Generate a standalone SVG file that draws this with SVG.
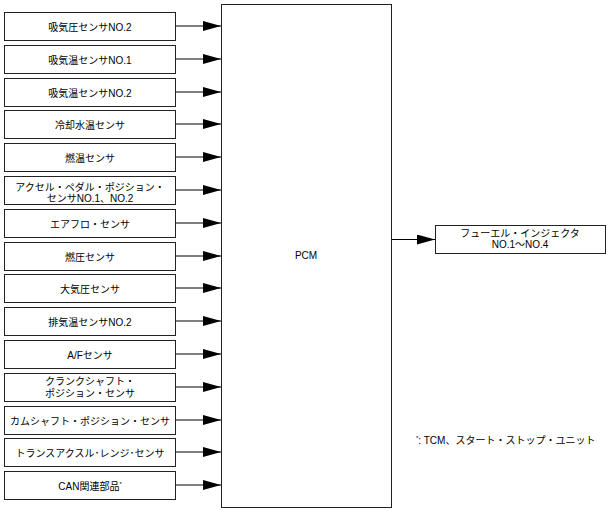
<svg xmlns="http://www.w3.org/2000/svg" width="611" height="511" viewBox="0 0 611 511">
<style>
  .box { fill: #ffffff; stroke: #222222; stroke-width: 1; }
  .conn { stroke: #000000; stroke-width: 1; fill: none; }
  text { font-family: "Liberation Sans", "Noto Sans CJK JP", sans-serif; font-size: 10px; fill: #000000; }
  .c { text-anchor: middle; }
  .sup { font-size: 6px; }
</style>
<defs>
  <marker id="arr" markerUnits="userSpaceOnUse" markerWidth="18" markerHeight="10" refX="18" refY="5" orient="auto">
    <path d="M0,0 L18,5 L0,10 Z" fill="#000000"/>
  </marker>
</defs>
<rect width="611" height="511" fill="#ffffff"/>

<g id="connectors">
  <line class="conn" x1="175.5" y1="26" x2="221" y2="26" marker-end="url(#arr)"/>
  <line class="conn" x1="175.5" y1="59" x2="221" y2="59" marker-end="url(#arr)"/>
  <line class="conn" x1="175.5" y1="92" x2="221" y2="92" marker-end="url(#arr)"/>
  <line class="conn" x1="175.5" y1="124" x2="221" y2="124" marker-end="url(#arr)"/>
  <line class="conn" x1="175.5" y1="157" x2="221" y2="157" marker-end="url(#arr)"/>
  <line class="conn" x1="175.5" y1="190" x2="221" y2="190" marker-end="url(#arr)"/>
  <line class="conn" x1="175.5" y1="223" x2="221" y2="223" marker-end="url(#arr)"/>
  <line class="conn" x1="175.5" y1="256" x2="221" y2="256" marker-end="url(#arr)"/>
  <line class="conn" x1="175.5" y1="288" x2="221" y2="288" marker-end="url(#arr)"/>
  <line class="conn" x1="175.5" y1="321" x2="221" y2="321" marker-end="url(#arr)"/>
  <line class="conn" x1="175.5" y1="354" x2="221" y2="354" marker-end="url(#arr)"/>
  <line class="conn" x1="175.5" y1="387" x2="221" y2="387" marker-end="url(#arr)"/>
  <line class="conn" x1="175.5" y1="420" x2="221" y2="420" marker-end="url(#arr)"/>
  <line class="conn" x1="175.5" y1="452" x2="221" y2="452" marker-end="url(#arr)"/>
  <line class="conn" x1="175.5" y1="485" x2="221" y2="485" marker-end="url(#arr)"/>
  <line class="conn" x1="391.5" y1="239.5" x2="435" y2="239.5" marker-end="url(#arr)"/>
</g>

<g id="n1"><rect class="box" x="4.5" y="12.5" width="171" height="28"/><text class="c" x="90" y="30.5">吸気圧センサNO.2</text></g>
<g id="n2"><rect class="box" x="4.5" y="45.5" width="171" height="28"/><text class="c" x="90" y="63.5">吸気温センサNO.1</text></g>
<g id="n3"><rect class="box" x="4.5" y="78.5" width="171" height="28"/><text class="c" x="90" y="96.5">吸気温センサNO.2</text></g>
<g id="n4"><rect class="box" x="4.5" y="110.5" width="171" height="28"/><text class="c" x="90" y="128.5">冷却水温センサ</text></g>
<g id="n5"><rect class="box" x="4.5" y="143.5" width="171" height="28"/><text class="c" x="90" y="161.5">燃温センサ</text></g>
<g id="n6"><rect class="box" x="4.5" y="176.5" width="171" height="28"/><text class="c" x="90" y="190.5">アクセル・ペダル・ポジション・</text><text class="c" x="90" y="202">センサNO.1、NO.2</text></g>
<g id="n7"><rect class="box" x="4.5" y="209.5" width="171" height="28"/><text class="c" x="90" y="227.5">エアフロ・センサ</text></g>
<g id="n8"><rect class="box" x="4.5" y="242.5" width="171" height="28"/><text class="c" x="90" y="260.5">燃圧センサ</text></g>
<g id="n9"><rect class="box" x="4.5" y="274.5" width="171" height="28"/><text class="c" x="90" y="292.5">大気圧センサ</text></g>
<g id="n10"><rect class="box" x="4.5" y="307.5" width="171" height="28"/><text class="c" x="90" y="325.5">排気温センサNO.2</text></g>
<g id="n11"><rect class="box" x="4.5" y="340.5" width="171" height="28"/><text class="c" x="90" y="358.5">A/Fセンサ</text></g>
<g id="n12"><rect class="box" x="4.5" y="373.5" width="171" height="28"/><text class="c" x="90" y="384.5">クランクシャフト・</text><text class="c" x="90" y="397">ポジション・センサ</text></g>
<g id="n13"><rect class="box" x="4.5" y="406.5" width="171" height="28"/><text class="c" x="90" y="424.5">カムシャフト・ポジション・センサ</text></g>
<g id="n14"><rect class="box" x="4.5" y="438.5" width="171" height="28"/><text class="c" x="90" y="456.5">トランスアクスル･レンジ･センサ</text></g>
<g id="n15"><rect class="box" x="4.5" y="471.5" width="171" height="28"/><text class="c" x="90" y="489.5">CAN関連部品<tspan class="sup" dy="-4">*</tspan></text></g>

<g id="pcm"><rect class="box" x="221.5" y="4.5" width="170" height="503"/><text class="c" x="306" y="259">PCM</text></g>

<g id="injector"><rect class="box" x="435.5" y="225.5" width="170" height="28"/><text class="c" x="520" y="236.5">フューエル・インジェクタ</text><text class="c" x="520" y="248">NO.1〜NO.4</text></g>

<g id="footnote"><text x="416" y="444"><tspan class="sup" dy="-4">*</tspan><tspan dy="4">: TCM、スタート・ストップ・ユニット</tspan></text></g>
</svg>
